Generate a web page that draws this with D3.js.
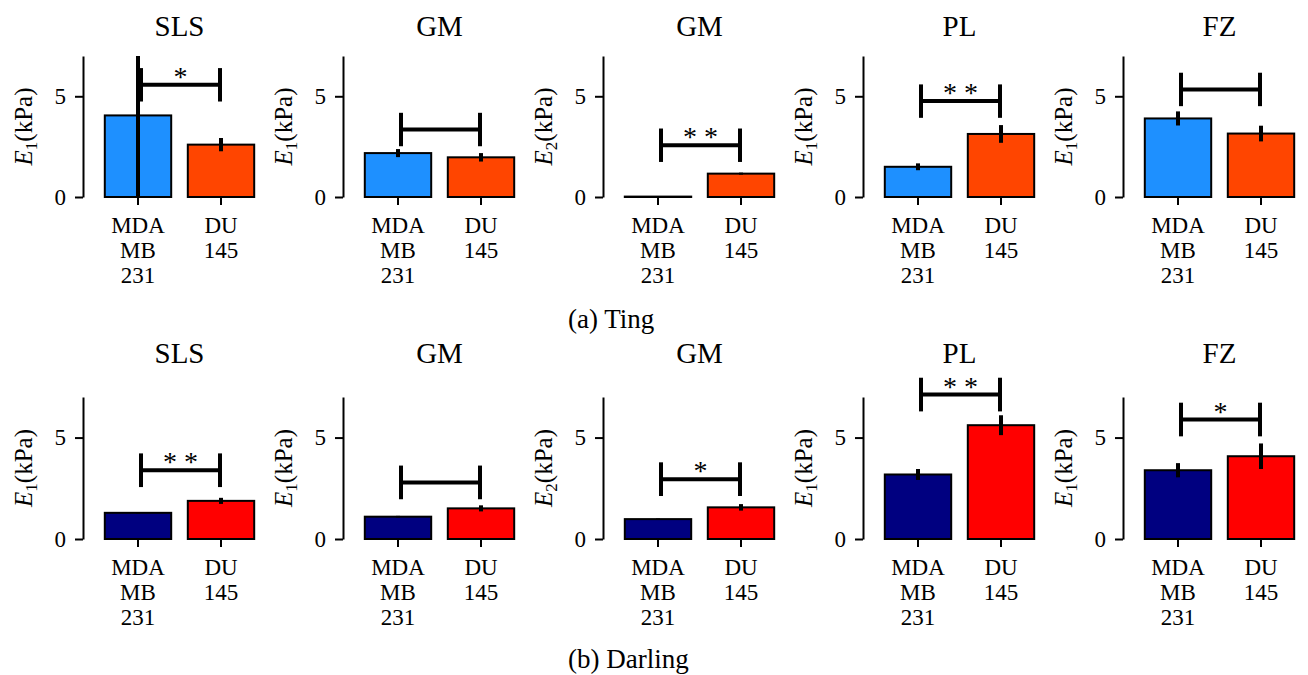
<!DOCTYPE html>
<html lang="en">
<head>
  <meta charset="UTF-8">
  <title>Ting / Darling bar panels</title>
  <script src="https://d3js.org/d3.v7.min.js"></script>
  <style>
    body { margin: 0; background: #fff; }
    svg text { font-family: "Liberation Serif", "DejaVu Serif", serif; fill: #000; }
  </style>
</head>
<body>
  <svg id="chart" width="1308" height="675"></svg>
  <script>
    // categories and tick labels
    const categories = ['MDA MB 231', 'DU 145'];
    const categoryLines = [['MDA', 'MB', '231'], ['DU', '145']];
    const yTicks = [0, 5];
    const panelTitles = ['SLS', 'GM', 'GM', 'PL', 'FZ'];
    const modulusIndex = ['1', '1', '2', '1', '1'];

    // (a) Ting
    const tingMeans = [[4.05, 2.6], [2.18, 1.97], [0.02, 1.16], [1.5, 3.13], [3.9, 3.15]];
    const tingErrors = [[5.5, 0.33], [0.2, 0.21], [0, 0.05], [0.17, 0.44], [0.35, 0.39]];
    const tingBracket = [5.57, 3.35, 2.57, 4.76, 5.34];
    const tingStars = ['*', '', '* *', '* *', ''];

    // (b) Darling
    const darlingMeans = [[1.29, 1.88], [1.1, 1.51], [0.98, 1.56], [3.18, 5.61], [3.39, 4.08]];
    const darlingErrors = [[0.03, 0.15], [0.04, 0.15], [0.03, 0.16], [0.27, 0.49], [0.35, 0.63]];
    const darlingBracket = [3.39, 2.79, 2.95, 7.12, 5.89];
    const darlingStars = ['* *', '', '*', '* *', '*'];

    const svg = d3.select('#chart');
    const serif = '"Liberation Serif", "DejaVu Serif", serif';

    const rows = [
      { means: tingMeans, errs: tingErrors, bracket: tingBracket, stars: tingStars,
        colors: ['#1E90FF', '#FF4500'], zero: 197, top: 56, titleY: 36,
        caption: '(a) Ting', captionY: 328 },
      { means: darlingMeans, errs: darlingErrors, bracket: darlingBracket, stars: darlingStars,
        colors: ['#000080', '#FF0000'], zero: 539, top: 397, titleY: 363,
        caption: '(b) Darling', captionY: 668 }
    ];

    const capHalf = 0.83; // half height of the bracket end caps, in kPa

    rows.forEach((row, r) => {
      const y = d3.scaleLinear().domain([0, 7]).range([row.zero, row.top]);

      panelTitles.forEach((title, i) => {
        const ax = 83 + 260 * i;
        const x = d3.scaleBand().domain(categories)
          .range([ax + 13.5, ax + 179.5]).paddingInner(0.2).paddingOuter(0.1);
        const cx = c => x(c) + x.bandwidth() / 2;
        const g = svg.append('g').attr('font-family', serif);

        const clipId = `clip-${r}-${i}`;
        svg.append('clipPath').attr('id', clipId)
          .append('rect').attr('x', ax).attr('y', y(7)).attr('width', 200).attr('height', y(0) - y(7));

        // title
        g.append('text')
          .attr('x', (cx(categories[0]) + cx(categories[1])) / 2).attr('y', row.titleY)
          .attr('text-anchor', 'middle').style('font-size', '29px').text(title);

        // bars
        g.selectAll('rect.bar').data(categories).join('rect')
          .attr('class', 'bar')
          .attr('x', d => x(d)).attr('width', x.bandwidth())
          .attr('y', (d, k) => y(row.means[i][k]))
          .attr('height', (d, k) => y(0) - y(row.means[i][k]))
          .attr('fill', (d, k) => row.colors[k])
          .attr('stroke', '#000').attr('stroke-width', 2);

        // error bars, clipped to the axes like the original
        g.append('g').attr('clip-path', `url(#${clipId})`)
          .selectAll('line').data(categories).join('line')
          .attr('x1', d => cx(d)).attr('x2', d => cx(d))
          .attr('y1', (d, k) => y(row.means[i][k] - row.errs[i][k]))
          .attr('y2', (d, k) => y(row.means[i][k] + row.errs[i][k]))
          .attr('stroke', '#000').attr('stroke-width', 4);

        // y axis
        const yAxis = g.append('g').attr('transform', `translate(${ax},0)`)
          .call(d3.axisLeft(y).tickValues(yTicks).tickFormat(d3.format('d'))
            .tickSize(8).tickSizeOuter(0).tickPadding(9));
        yAxis.attr('font-family', serif);
        yAxis.select('.domain').attr('stroke-width', 2);
        yAxis.selectAll('.tick line').attr('stroke-width', 2);
        yAxis.selectAll('.tick text').style('font-size', '23px').attr('fill', '#000');

        // x axis (ticks only)
        const xAxis = g.append('g').attr('transform', `translate(0,${row.zero})`)
          .call(d3.axisBottom(x).tickSize(8).tickSizeOuter(0));
        xAxis.attr('font-family', serif);
        xAxis.select('.domain').remove();
        xAxis.selectAll('.tick line').attr('stroke-width', 2);
        xAxis.selectAll('.tick text').remove();
        xAxis.selectAll('.tick').each(function (d, k) {
          const t = d3.select(this).append('text')
            .attr('text-anchor', 'middle').style('font-size', '23px');
          categoryLines[k].forEach((line, j) => {
            t.append('tspan').attr('x', 0).attr('y', 36 + 25 * j).text(line);
          });
        });

        // y label
        const lab = g.append('text')
          .attr('transform', `translate(${ax - 60},${(y(0) + y(7)) / 2}) rotate(-90)`)
          .attr('text-anchor', 'middle').attr('dy', '0.35em').style('font-size', '25px');
        lab.append('tspan').style('font-style', 'italic').text('E');
        lab.append('tspan').attr('dy', 5).style('font-size', '17px').text(modulusIndex[i]);
        lab.append('tspan').attr('dy', -5).text('(kPa)');

        // significance bracket
        const bx1 = cx(categories[0]) + 3;
        const bx2 = cx(categories[1]) - 1;
        const by = row.bracket[i];
        const bk = g.append('g').attr('stroke', '#000').attr('stroke-width', 4);
        bk.append('line').attr('x1', bx1).attr('x2', bx2).attr('y1', y(by)).attr('y2', y(by));
        [bx1, bx2].forEach(bx => {
          bk.append('line').attr('x1', bx).attr('x2', bx)
            .attr('y1', y(by - capHalf)).attr('y2', y(by + capHalf));
        });
        if (row.stars[i]) {
          g.append('text').attr('x', (bx1 + bx2) / 2).attr('y', y(by) + 1)
            .attr('text-anchor', 'middle').style('font-size', '28px').text(row.stars[i]);
        }
      });

      svg.append('text').attr('x', 568).attr('y', row.captionY)
        .attr('font-family', serif).style('font-size', '27px').text(row.caption);
    });
  </script>
</body>
</html>
